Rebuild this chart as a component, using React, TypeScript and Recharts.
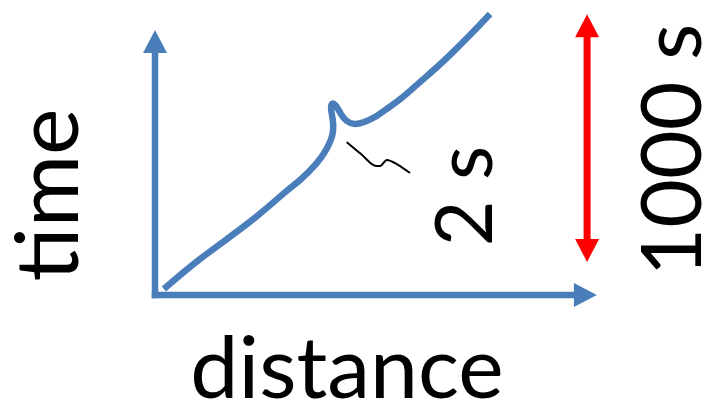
import React from "react";
import { LineChart, Line, XAxis, YAxis, ReferenceLine } from "recharts";

// Distance is in arbitrary units (0–100); time is in seconds.
const distanceDomain = [0, 100];
const timeDomain = [0, 1150];

// Trajectory: steady climb, a brief 2 s glitch, then the climb continues.
const trajDistance = [2.0, 10.1, 21.3, 28.8, 32.6, 36.2, 38.4, 39.8, 40.0, 39.6, 39.8, 40.7, 41.8, 43.1, 44.9, 47.0, 49.4, 52.1, 55.7, 59.6, 63.4, 67.0, 71.0, 75.3];
const trajTime = [24, 145, 295, 408, 464, 529, 585, 642, 698, 747, 771, 763, 730, 702, 690, 698, 718, 751, 799, 860, 920, 981, 1053, 1134];

// Small squiggle marking the magnified glitch.
const squiggleDistance = [43.1, 46.3, 49.7, 50.6, 52.1, 54.6, 57.3];
const squiggleTime = [617, 569, 521, 521, 545, 525, 492];

// Axis arrow extents and the 1000 s span marker.
const axisEnds = { distance: 99.3, time: 1069 };
const spanX = 97.1;
const spanStart = 133;
const spanLength = 1000;

const labels = { x: "distance", y: "time", glitch: "2 s", span: `${spanLength} s` };

const trajectory = trajDistance.map((d, i) => ({ d, t: trajTime[i] }));
const squiggle = squiggleDistance.map((d, i) => ({ d, t: squiggleTime[i] }));

const BLUE = "#4A7EBB";
const RED = "#FF0000";
const FONT = "Lato, 'Open Sans', sans-serif";

type ArrowOpts = { color: string; width: number; head: number; headW: number; both?: boolean; cap?: "butt" | "square" };

const makeArrow = (o: ArrowOpts) => (p: any) => {
  const { x1, y1, x2, y2 } = p;
  const dx = x2 - x1;
  const dy = y2 - y1;
  const len = Math.hypot(dx, dy) || 1;
  const ux = dx / len;
  const uy = dy / len;
  const nx = -uy;
  const ny = ux;
  const head = (tx: number, ty: number, dirx: number, diry: number) => {
    const bx = tx - dirx * o.head;
    const by = ty - diry * o.head;
    return `${tx},${ty} ${bx + (nx * o.headW) / 2},${by + (ny * o.headW) / 2} ${bx - (nx * o.headW) / 2},${by - (ny * o.headW) / 2}`;
  };
  const sx = o.both ? x1 + ux * (o.head - 2) : x1;
  const sy = o.both ? y1 + uy * (o.head - 2) : y1;
  const ex = x2 - ux * (o.head - 2);
  const ey = y2 - uy * (o.head - 2);
  return (
    <g>
      <line x1={sx} y1={sy} x2={ex} y2={ey} stroke={o.color} strokeWidth={o.width} strokeLinecap={o.cap ?? "butt"} />
      <polygon points={head(x2, y2, ux, uy)} fill={o.color} />
      {o.both && <polygon points={head(x1, y1, -ux, -uy)} fill={o.color} />}
    </g>
  );
};

const axisArrow = makeArrow({ color: BLUE, width: 6.5, head: 23, headW: 24, cap: "square" });
const spanArrow = makeArrow({ color: RED, width: 7, head: 23, headW: 24, both: true });

const textStyle = { fontFamily: FONT, fill: "#000" } as const;

export default function App() {
  return (
    <div style={{ position: "absolute", left: 0, top: 0, width: 712, height: 415, background: "#fff" }}>
      <LineChart width={712} height={415} margin={{ top: 10, right: 112, bottom: 120, left: 155 }}>
        <XAxis type="number" dataKey="d" domain={distanceDomain} hide />
        <YAxis type="number" dataKey="t" domain={timeDomain} hide />
        <ReferenceLine segment={[{ x: 0, y: 0 }, { x: 0, y: axisEnds.time }]} shape={axisArrow} />
        <ReferenceLine segment={[{ x: 0, y: 0 }, { x: axisEnds.distance, y: 0 }]} shape={axisArrow} />
        <ReferenceLine segment={[{ x: spanX, y: spanStart }, { x: spanX, y: spanStart + spanLength }]} shape={spanArrow} />
        <Line data={trajectory} dataKey="t" type="natural" stroke={BLUE} strokeWidth={6.5} dot={false} strokeLinejoin="round" isAnimationActive={false} />
        <Line data={squiggle} dataKey="t" type="monotone" stroke="#000" strokeWidth={2} dot={false} strokeLinejoin="round" isAnimationActive={false} />
        <text x={78} y={195} transform="rotate(-90 78 195)" textAnchor="middle" fontSize={88} style={textStyle}>{labels.y}</text>
        <text x={347} y={398} textAnchor="middle" fontSize={86} style={textStyle}>{labels.x}</text>
        <text x={492} y={196} transform="rotate(-90 492 196)" textAnchor="middle" fontSize={79} style={textStyle}>{labels.glitch}</text>
        <text x={701} y={150} transform="rotate(-90 701 150)" textAnchor="middle" fontSize={84} style={textStyle}>{labels.span}</text>
      </LineChart>
    </div>
  );
}
